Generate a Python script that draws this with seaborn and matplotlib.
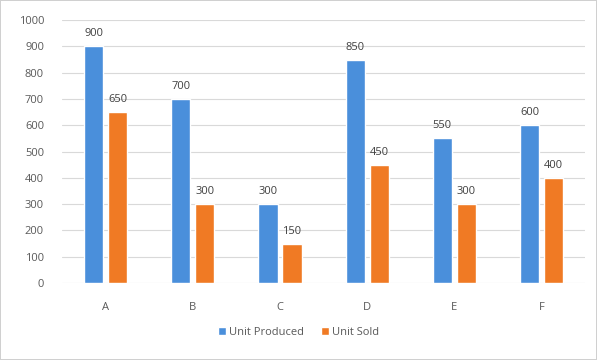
import pandas as pd
import matplotlib.pyplot as plt
import seaborn as sns
from matplotlib.patches import Patch

categories = ['A', 'B', 'C', 'D', 'E', 'F']
unit_produced = [900, 700, 300, 850, 550, 600]
unit_sold = [650, 300, 150, 450, 300, 400]
series_names = ['Unit Produced', 'Unit Sold']
colors = ['#4A8FDB', '#F07A24']

df = pd.DataFrame({
    'category': categories * 2,
    'value': unit_produced + unit_sold,
    'series': [series_names[0]] * len(categories) + [series_names[1]] * len(categories),
})

sns.set_style('white')
plt.rcParams['font.family'] = ['Open Sans', 'DejaVu Sans']

fig = plt.figure(figsize=(5.97, 3.6), dpi=100)
fig.patch.set_edgecolor('#d0d0d0')
fig.patch.set_linewidth(1.2)
ax = fig.add_axes([0.104, 0.214, 0.876, 0.73])

sns.barplot(data=df, x='category', y='value', hue='series', palette=colors,
            width=0.55, gap=0.2, saturation=1, ax=ax, legend=False)

ax.set_ylim(0, 1000)
ax.set_yticks(range(0, 1001, 100))
ax.yaxis.grid(True, color='#d9d9d9', linewidth=0.8)
ax.set_axisbelow(True)
for s in ax.spines.values():
    s.set_visible(False)
ax.tick_params(axis='both', length=0, labelsize=8, labelcolor='#595959')
ax.tick_params(axis='x', pad=14)
ax.tick_params(axis='y', pad=13)
ax.set_xlabel('')
ax.set_ylabel('')

for cont in ax.containers:
    ax.bar_label(cont, fmt='%d', padding=5, fontsize=8, color='#404040')

handles = [Patch(facecolor=c, label=n) for c, n in zip(colors, series_names)]
fig.legend(handles=handles, loc='center', bbox_to_anchor=(0.5, 0.077), ncol=2,
           frameon=False, fontsize=8, handlelength=0.7, handleheight=0.7,
           handletextpad=0.3, columnspacing=1.5, labelcolor='#595959')

fig.savefig('out.png', dpi=100)
